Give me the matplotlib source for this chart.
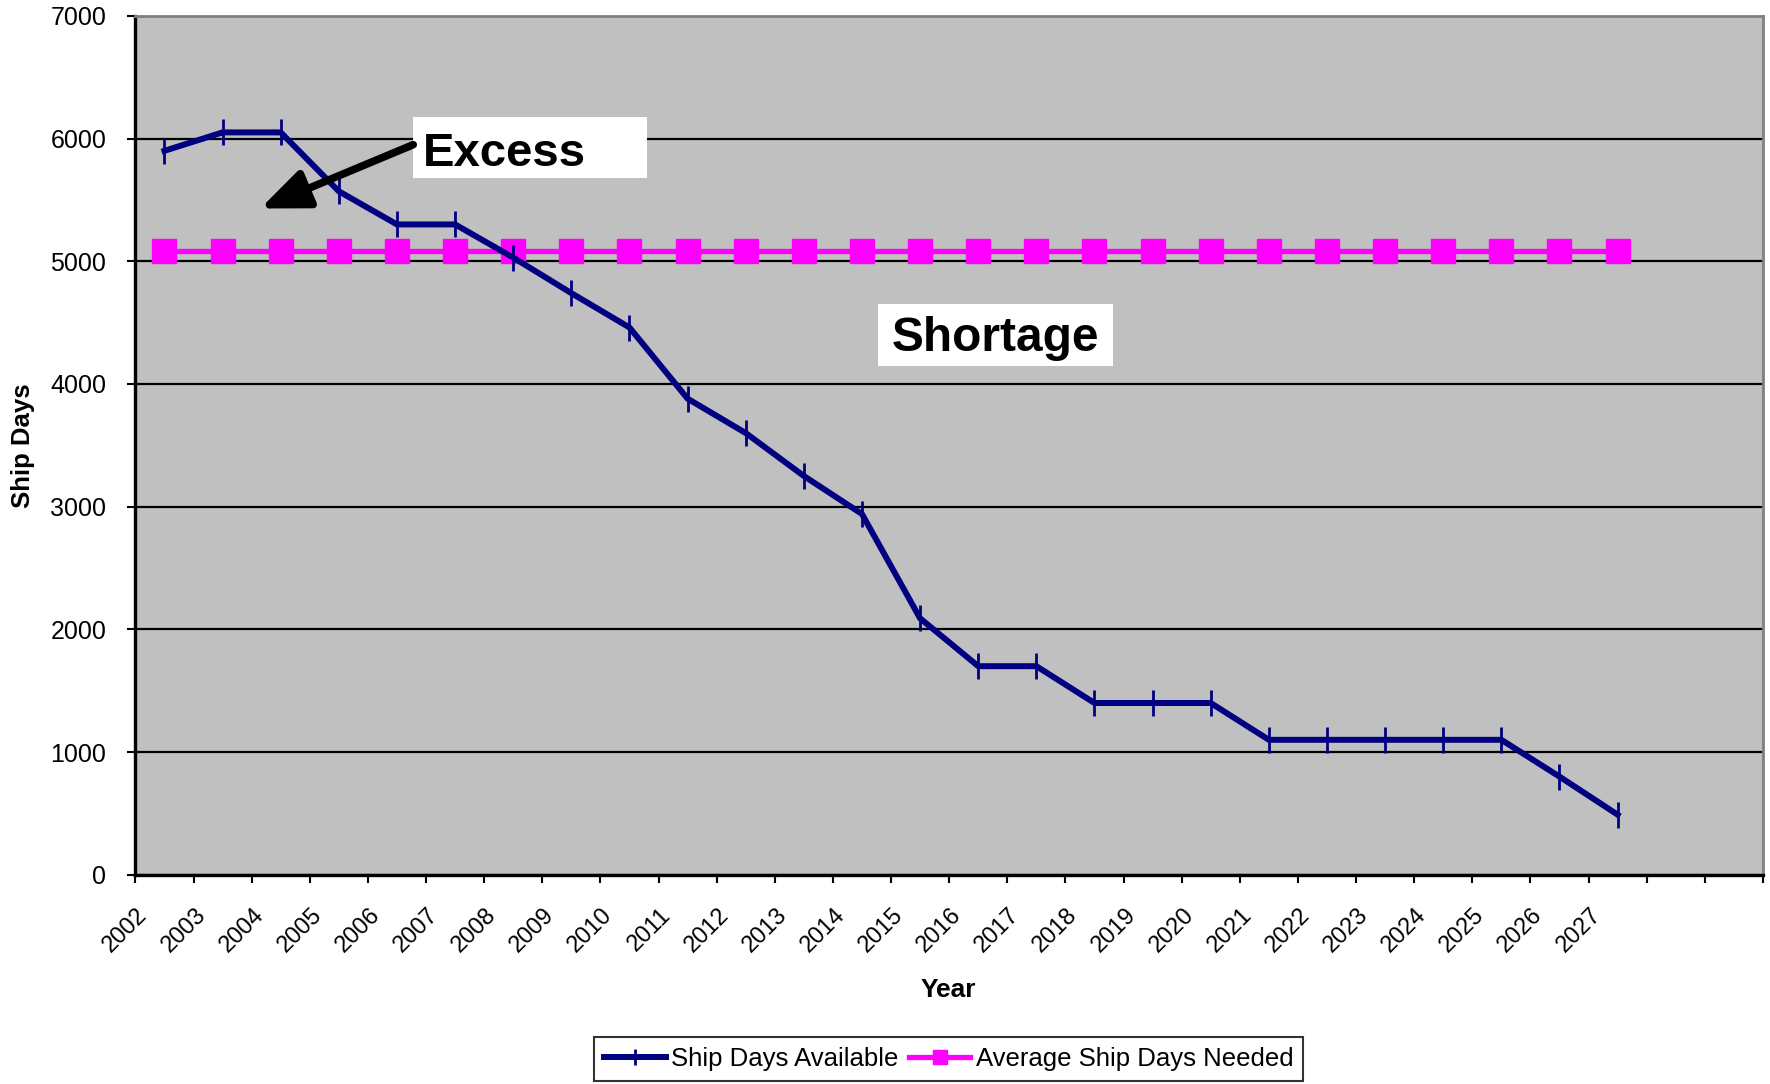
import numpy as np
import matplotlib.pyplot as plt
from matplotlib.patches import Rectangle
from matplotlib.transforms import ScaledTranslation

plt.rcParams['font.family'] = ['Liberation Sans', 'DejaVu Sans']

# Données
years = [str(y) for y in range(2002, 2028)]
n_slots = 28  # l'axe compte deux catégories vides après 2027
ship_days_available = [5900, 6050, 6050, 5570, 5300, 5300, 5030, 4740, 4460, 3880,
                       3600, 3250, 2940, 2090, 1700, 1700, 1400, 1400, 1400, 1100,
                       1100, 1100, 1100, 1100, 800, 490]
avg_ship_days_needed = [5080] * len(years)
y_ticks = [0, 1000, 2000, 3000, 4000, 5000, 6000, 7000]

fig = plt.figure(figsize=(17.7, 10.84), dpi=100)
ax = fig.add_axes([0.0765, 0.193, 0.9195, 0.7924])
ax.set_facecolor('#C0C0C0')

x = np.arange(len(years))
ax.plot(x, ship_days_available, color='#000080', lw=4.3, marker='|',
        ms=19, mew=2, label='Ship Days Available', zorder=4)
ax.plot(x, avg_ship_days_needed, color='#FF00FF', lw=3.8, marker='s',
        ms=17, label='Average Ship Days Needed', zorder=3)

ax.set_xlim(-0.5, n_slots - 0.5)
ax.set_ylim(0, 7000)
ax.set_yticks(y_ticks)
ax.set_yticklabels([str(v) for v in y_ticks], fontsize=18)
ax.yaxis.grid(True, color='black', lw=1.6)
ax.set_axisbelow(True)

# graduations aux limites des catégories, étiquettes au centre
ax.set_xticks(np.arange(n_slots + 1) - 0.5)
ax.set_xticklabels([])
ax.set_xticks(x, minor=True)
ax.set_xticklabels(years, minor=True, rotation=45, ha='right',
                   rotation_mode='anchor', fontsize=17)
ax.tick_params(axis='x', which='minor', length=0, pad=21)
ax.tick_params(axis='x', which='major', length=6, width=1.5, direction='out')
ax.tick_params(axis='y', length=6, width=1.5, direction='out', pad=15)

# décalage des étiquettes vers la gauche (après tick_params, sinon c'est perdu)
shift = ScaledTranslation(-0.28, 0, fig.dpi_scale_trans)
for lab in ax.get_xticklabels(minor=True):
    lab.set_transform(lab.get_transform() + shift)

for side in ['left', 'bottom']:
    ax.spines[side].set_color('black')
    ax.spines[side].set_linewidth(2.4)
for side in ['top', 'right']:
    ax.spines[side].set_color('#808080')
    ax.spines[side].set_linewidth(2)

fig.text(0.013, 0.589, 'Ship Days', fontsize=18.5, fontweight='bold',
         rotation=90, ha='center', va='center')
fig.text(0.536, 0.0867, 'Year', fontsize=19, fontweight='bold',
         ha='center', va='center')

# Encadrés de texte
ax.add_patch(Rectangle((4.28, 5676), 4.03, 497, facecolor='white',
                       edgecolor='none', zorder=5))
ax.text(4.45, 5870, 'Excess', fontsize=34, fontweight='bold',
        ha='left', va='center', zorder=6)
ax.annotate('', xy=(1.65, 5430), xytext=(4.28, 5950),
            arrowprops=dict(arrowstyle='-|>,head_length=2.9,head_width=1.2',
                            color='black', lw=5.5, shrinkA=0, shrinkB=0),
            zorder=6)
ax.add_patch(Rectangle((12.27, 4150), 4.05, 505, facecolor='white',
                       edgecolor='none', zorder=5))
ax.text(14.3, 4370, 'Shortage', fontsize=34.5, fontweight='bold',
        ha='center', va='center', zorder=6)

leg = fig.legend(loc='upper center', bbox_to_anchor=(0.536, 0.0437), ncol=2,
                 fontsize=18.5, frameon=True, fancybox=False, edgecolor='black',
                 handlelength=2.4, handletextpad=0.2, columnspacing=0.4,
                 borderpad=0.4, borderaxespad=0, markerscale=0.6)
leg.get_frame().set_linewidth(1.5)

fig.savefig('out.png', dpi=100)
